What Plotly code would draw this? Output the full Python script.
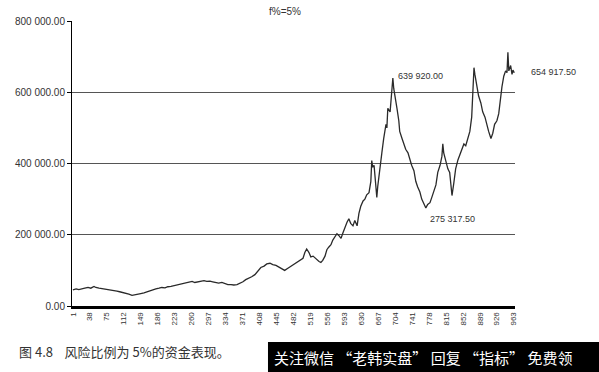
import plotly.graph_objects as go

# trading-day index and account equity
days = [1, 8, 14, 21, 27, 34, 40, 47, 51, 58, 64, 71, 77, 84, 90, 97, 103, 110, 117, 123,
        130, 136, 143, 149, 156, 162, 169, 175, 182, 189, 195, 202, 208, 215, 221, 228, 234,
        241, 247, 254, 261, 267, 274, 280, 287, 293, 300, 306, 313, 319, 326, 333, 339, 346,
        352, 359, 365, 372, 378, 385, 391, 398, 405, 411, 418, 424, 431, 437, 444, 450, 457,
        463, 470, 477, 483, 490, 496, 503, 507, 511, 516, 520, 525, 529, 533, 538, 542, 546,
        551, 555, 559, 564, 568, 573, 577, 581, 586, 590, 594, 599, 603, 607, 612, 616, 621,
        625, 629, 634, 638, 642, 647, 651, 653, 655, 658, 660, 662, 664, 666, 671, 675, 679,
        684, 686, 688, 693, 695, 697, 699, 701, 704, 708, 712, 714, 719, 723, 727, 732, 736,
        740, 745, 749, 753, 758, 762, 767, 769, 771, 775, 780, 784, 788, 793, 797, 802, 806,
        808, 810, 815, 819, 823, 826, 828, 832, 836, 841, 845, 850, 854, 858, 863, 867, 871,
        874, 876, 878, 882, 886, 891, 895, 900, 904, 908, 913, 917, 921, 926, 930, 932, 935,
        937, 941, 945, 948, 950, 952, 954, 956, 959, 961, 964]

equity = [45000, 48000, 46000, 49000, 50000, 52000, 50000, 55000, 52000, 50000, 49000, 47000,
          46000, 44000, 43000, 42000, 40000, 38000, 36000, 33000, 30000, 31000, 33000, 35000,
          37000, 40000, 42000, 46000, 48000, 50000, 52000, 51000, 54000, 55000, 57000, 58000,
          60000, 62000, 64000, 67000, 69000, 66000, 68000, 70000, 71000, 69000, 70000, 68000,
          65000, 64000, 66000, 62000, 60000, 60000, 59000, 60000, 63000, 68000, 74000, 78000,
          82000, 88000, 98000, 108000, 112000, 118000, 120000, 116000, 114000, 110000, 103000,
          100000, 106000, 112000, 118000, 124000, 130000, 134000, 150000, 160000, 150000,
          138000, 140000, 135000, 130000, 125000, 122000, 128000, 140000, 158000, 165000,
          172000, 185000, 195000, 203000, 198000, 190000, 205000, 220000, 235000, 245000,
          232000, 225000, 240000, 225000, 260000, 280000, 295000, 300000, 312000, 318000,
          350000, 408000, 390000, 395000, 370000, 330000, 305000, 335000, 380000, 430000,
          470000, 510000, 500000, 555000, 545000, 580000, 600000, 639920, 610000, 580000,
          555000, 520000, 490000, 470000, 455000, 440000, 430000, 410000, 395000, 380000,
          350000, 335000, 320000, 300000, 285000, 278000, 275317.5, 285000, 290000, 305000,
          320000, 340000, 375000, 395000, 420000, 455000, 430000, 400000, 385000, 375000,
          340000, 310000, 345000, 385000, 410000, 425000, 440000, 455000, 450000, 470000,
          490000, 530000, 600000, 669000, 650000, 620000, 590000, 570000, 545000, 530000,
          505000, 490000, 470000, 485000, 510000, 520000, 540000, 565000, 600000, 615000,
          645000, 660000, 655000, 712000, 660000, 670000, 675000, 650000, 662000, 654917.5]

x_ticks = [1, 38, 75, 112, 149, 186, 223, 260, 297, 334, 371, 408, 445, 482, 519, 556, 593,
           630, 667, 704, 741, 778, 815, 852, 889, 926, 963]
y_ticks = [0, 200000, 400000, 600000, 800000]
y_tick_text = ["0.00", "200 000.00", "400 000.00", "600 000.00", "800 000.00"]

peak_label = ("639 920.00", 699, 639920)
low_label = ("275 317.50", 771, 275317.5)
end_label = ("654 917.50", 964, 654917.5)

fig = go.Figure()
fig.add_trace(go.Scatter(x=days, y=equity, mode="lines",
                         line=dict(color="#2a2a2a", width=1.3), hoverinfo="skip"))

fig.update_layout(
    width=599, height=372,
    margin=dict(l=72, r=84, t=21, b=66, autoexpand=False),
    paper_bgcolor="white", plot_bgcolor="white",
    showlegend=False,
    font=dict(family="Arial, Liberation Sans, sans-serif", color="#333", size=9),
)
fig.update_xaxes(range=[-1, 965.5], tickmode="array", tickvals=x_ticks,
                 ticktext=[str(v) for v in x_ticks], tickangle=-90, automargin=False,
                 tickfont=dict(size=8, color="#333"), showgrid=False, zeroline=False,
                 showline=True, linecolor="black", linewidth=3, ticks="", ticklen=0)
fig.update_yaxes(range=[0, 800000], tickmode="array", tickvals=y_ticks, ticktext=y_tick_text,
                 tickfont=dict(size=10, color="#333"), showgrid=True, gridcolor="#555",
                 gridwidth=1, zeroline=False, showline=True, linecolor="black", linewidth=1,
                 ticks="outside", ticklen=4, tickcolor="black", automargin=False)

fig.add_annotation(text=peak_label[0], x=peak_label[1], y=peak_label[2], xanchor="left",
                   yanchor="middle", xshift=3, yshift=2, showarrow=False,
                   font=dict(size=9, color="#333"))
fig.add_annotation(text=low_label[0], x=low_label[1], y=low_label[2], xanchor="left",
                   yanchor="top", xshift=2, yshift=-4, showarrow=False,
                   font=dict(size=9, color="#333"))
fig.add_annotation(text=end_label[0], x=end_label[1], y=end_label[2], xanchor="left",
                   yanchor="middle", xshift=15, yshift=1, showarrow=False,
                   font=dict(size=9, color="#333"))
fig.add_annotation(text="f%=5%", xref="paper", yref="paper", x=0.48, y=1.035,
                   xanchor="center", yanchor="middle", showarrow=False,
                   font=dict(size=10, color="#333"))
fig.add_annotation(text="图 4.8    风险比例为 5%的资金表现。", xref="paper", yref="paper",
                   x=-0.124, y=-0.161, xanchor="left", yanchor="middle", showarrow=False,
                   font=dict(family="Noto Sans CJK SC", size=13, color="#333"))

fig.add_shape(type="rect", xref="paper", yref="paper", x0=0.4424, x1=1.2, y0=-0.24,
              y1=-0.1263, fillcolor="black", line=dict(width=0), layer="above")
fig.add_annotation(text="关注微信 “老韩实盘” 回复 “指标” 免费领", xref="paper", yref="paper",
                   x=0.451, y=-0.179, xanchor="left", yanchor="middle", showarrow=False,
                   font=dict(family="Noto Sans CJK SC", size=15, color="white"))

fig.write_html("out.html", config={"displayModeBar": False},
               post_script="document.body.style.margin='0';document.body.style.padding='0';")
